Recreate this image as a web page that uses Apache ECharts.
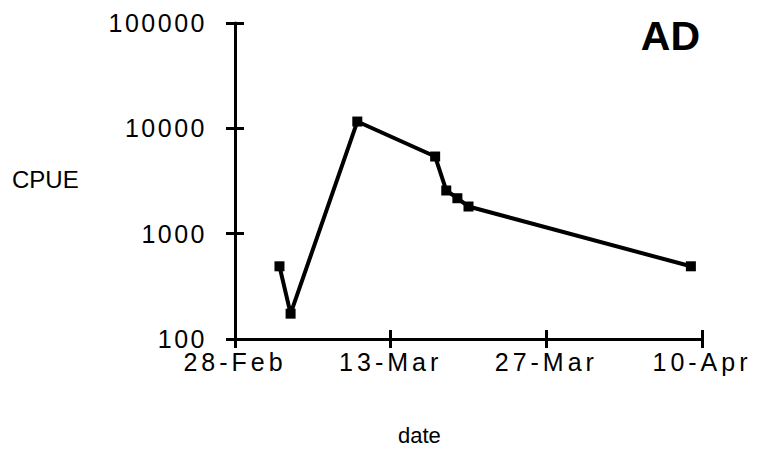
<!DOCTYPE html>
<html>
<head>
<meta charset="utf-8">
<script src="https://cdn.jsdelivr.net/npm/echarts@6/dist/echarts.min.js"></script>
<style>
  html, body { margin: 0; padding: 0; background: #fff; }
  #chart { width: 757px; height: 451px; }
</style>
</head>
<body>
<div id="chart"></div>
<script>
// Sampling dates (1992 season) and catch per unit effort
const sampleDates = ['1992-03-03', '1992-03-04', '1992-03-10', '1992-03-17', '1992-03-18', '1992-03-19', '1992-03-20', '1992-04-09'];
const cpueValues = [490, 174, 11600, 5400, 2570, 2170, 1810, 490];
const dateTickLabels = ['28-Feb', '13-Mar', '27-Mar', '10-Apr'];
const cpueTickLabels = ['100', '1000', '10000', '100000'];
const startDate = '1992-02-28';
const dayStep = 14;

const DAY = 86400000;
const t0 = Date.parse(startDate);
const points = sampleDates.map((d, i) => [(Date.parse(d) - t0) / DAY, cpueValues[i]]);
const xMax = dayStep * (dateTickLabels.length - 1);

const FONT = 'Liberation Sans, Arial, Helvetica, sans-serif';

const chart = echarts.init(document.getElementById('chart'), null, { renderer: 'svg' });

const baseX = {
  type: 'value', min: 0, max: xMax, interval: dayStep,
  splitLine: { show: false }
};
const baseY = {
  type: 'log', logBase: 10, min: 100, max: 100000,
  splitLine: { show: false }
};

chart.setOption({
  animation: false,
  backgroundColor: '#fff',
  grid: { left: 235, right: 55, top: 23, bottom: 112, containLabel: false },
  graphic: [
    { type: 'text', left: 12, top: 167,
      style: { text: 'CPUE', font: '24px ' + FONT, fill: '#000' } },
    { type: 'text', left: 398, top: 424,
      style: { text: 'date', font: '22px ' + FONT, fill: '#000' } },
    { type: 'text', right: 57, top: 15,
      style: { text: 'AD', font: 'bold 41px ' + FONT, fill: '#000' } }
  ],
  xAxis: [
    Object.assign({}, baseX, {
      axisLine: { show: true, onZero: false, lineStyle: { color: '#000', width: 3 } },
      axisTick: { show: true, inside: false, length: 9, lineStyle: { color: '#000', width: 3 } },
      axisLabel: {
        margin: 10, fontFamily: FONT, fontSize: 25, color: '#000',
        formatter: v => dateTickLabels[Math.round(v / dayStep)] || ''
      }
    }),
    Object.assign({}, baseX, {
      position: 'bottom',
      axisLine: { show: false },
      axisTick: { show: true, inside: true, length: 9, lineStyle: { color: '#000', width: 3 } },
      axisLabel: { show: false }
    })
  ],
  yAxis: [
    Object.assign({}, baseY, {
      axisLine: { show: true, onZero: false, lineStyle: { color: '#000', width: 3 } },
      axisTick: { show: true, inside: false, length: 9, lineStyle: { color: '#000', width: 3 } },
      axisLabel: {
        margin: 28, fontFamily: FONT, fontSize: 25, color: '#000',
        formatter: v => cpueTickLabels[Math.round(Math.log10(v)) - 2] || ''
      }
    }),
    Object.assign({}, baseY, {
      position: 'left',
      axisLine: { show: false },
      axisTick: { show: true, inside: true, length: 9, lineStyle: { color: '#000', width: 3 } },
      axisLabel: { show: false }
    })
  ],
  series: [{
    type: 'line',
    xAxisIndex: 0, yAxisIndex: 0,
    data: points,
    symbol: 'rect', symbolSize: 10,
    itemStyle: { color: '#000' },
    lineStyle: { color: '#000', width: 4 }
  }]
});

// widen the spacing of the tick label glyphs
function spaceTickLabels() {
  document.querySelectorAll('#chart text').forEach(el => {
    const t = el.textContent;
    if (dateTickLabels.includes(t)) el.style.letterSpacing = '4px';
    else if (cpueTickLabels.includes(t)) el.style.letterSpacing = '2.5px';
  });
}
setTimeout(spaceTickLabels, 0);
setTimeout(spaceTickLabels, 200);
</script>
</body>
</html>
